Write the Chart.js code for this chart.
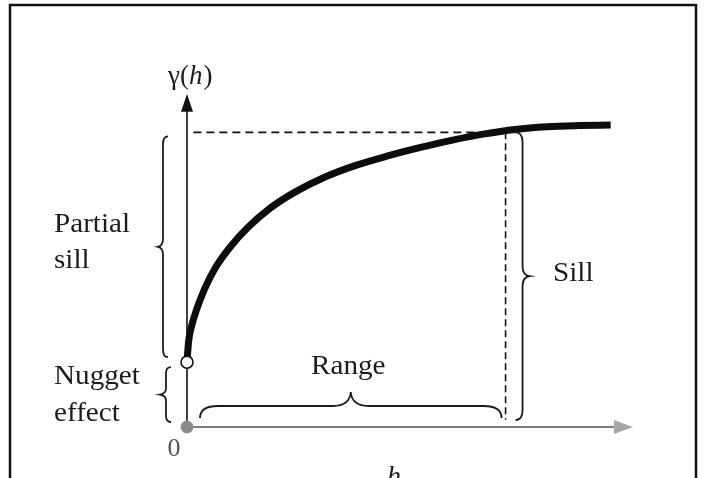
<!DOCTYPE html>
<html>
<head>
<meta charset="utf-8">
<script src="https://cdn.jsdelivr.net/npm/chart.js@4"></script>
<style>
  body { margin: 0; background: #fff; }
  #chart { display: block; }
</style>
</head>
<body>
<canvas id="chart" width="706" height="478"></canvas>
<script>
// semivariogram (h, gamma(h))
const hValues = [0, 0.05, 0.15, 0.3, 0.55, 0.9, 1.35, 1.9, 2.6, 3.4, 4.3, 5.3, 6.3, 7.3, 8.3, 9.3, 10.3, 11.3, 12.3, 13.3];
const gammaValues = [2.2, 2.9, 3.45, 3.98, 4.68, 5.42, 6.1, 6.76, 7.42, 7.98, 8.47, 8.88, 9.2, 9.48, 9.73, 9.94, 10.1, 10.19, 10.23, 10.25];

const nugget = 2.2;
const sill = 10;
const range = 10;
const xMax = 14;
const yMax = 11.2;

const leftLabels = ['Partial', 'sill', 'Nugget', 'effect'];
const rangeLabel = 'Range';
const sillLabel = 'Sill';
const originLabel = '0';
const xAxisLabel = 'h';

const curve = hValues.map((h, i) => ({ x: h, y: gammaValues[i] }));

const SERIF = '"Liberation Serif", "Times New Roman", serif';
const INK = '#1c1c1c';

// curly brace, drawn in a local frame: along = +x, tip side = +y
function brace(ctx, x1, y1, x2, y2, a, b, r) {
    const len = Math.hypot(x2 - x1, y2 - y1);
    const ang = Math.atan2(y2 - y1, x2 - x1);
    const m = len / 2;
    ctx.save();
    ctx.translate(x1, y1);
    ctx.rotate(ang);
    ctx.beginPath();
    ctx.moveTo(0, 0);
    ctx.quadraticCurveTo(0, a, r, a);
    ctx.lineTo(m - r, a);
    ctx.quadraticCurveTo(m - 1, a, m, a + b);
    ctx.quadraticCurveTo(m + 1, a, m + r, a);
    ctx.lineTo(len - r, a);
    ctx.quadraticCurveTo(len, a, len, 0);
    ctx.stroke();
    ctx.restore();
}

function stretchedText(ctx, text, x, y, align, sx) {
    ctx.save();
    ctx.translate(x, y);
    ctx.scale(sx, 1);
    ctx.textAlign = align;
    ctx.fillText(text, 0, 0);
    ctx.restore();
}

const annotations = {
    id: 'annotations',
    afterDatasetsDraw(chart) {
        const ctx = chart.ctx;
        const x = chart.scales.x;
        const y = chart.scales.y;
        const x0 = x.getPixelForValue(0);
        const y0 = y.getPixelForValue(0);

        ctx.save();
        // arrow heads
        ctx.fillStyle = '#111';
        ctx.beginPath();
        ctx.moveTo(x0, y.getPixelForValue(yMax) - 3);
        ctx.lineTo(x0 - 6, y.getPixelForValue(10.7));
        ctx.lineTo(x0 + 6, y.getPixelForValue(10.7));
        ctx.closePath();
        ctx.fill();

        ctx.fillStyle = '#a8a8a8';
        ctx.beginPath();
        ctx.moveTo(x.getPixelForValue(xMax), y0);
        ctx.lineTo(x.getPixelForValue(13.4), y0 - 7);
        ctx.lineTo(x.getPixelForValue(13.4), y0 + 7);
        ctx.closePath();
        ctx.fill();

        // braces
        ctx.strokeStyle = INK;
        ctx.lineWidth = 1.8;
        const ySill = y.getPixelForValue(sill);
        const yNug = y.getPixelForValue(nugget);
        const xRange = x.getPixelForValue(range);
        // partial sill: tip to the left
        brace(ctx, x0 - 19, ySill + 4, x0 - 19, yNug - 5, 5, 5, 8);
        // nugget effect
        brace(ctx, x0 - 16, yNug + 5, x0 - 16, y0 - 5, 5, 6, 6);
        // sill: tip to the right
        brace(ctx, xRange + 10, y0 - 7, xRange + 10, ySill, 7, 7, 10);
        // range: tip upward
        brace(ctx, xRange - 4, y0 - 9, x0 + 13, y0 - 9, 12, 14, 18);

        // texts
        ctx.fillStyle = INK;
        ctx.textBaseline = 'alphabetic';
        ctx.font = '27px ' + SERIF;
        const sx = 1.08;
        stretchedText(ctx, leftLabels[0], 54, 232, 'left', sx);
        stretchedText(ctx, leftLabels[1], 54, 268, 'left', sx);
        stretchedText(ctx, leftLabels[2], 54, 384, 'left', sx);
        stretchedText(ctx, leftLabels[3], 54, 421, 'left', sx);
        stretchedText(ctx, rangeLabel, x.getPixelForValue(range / 2) + 2, 374, 'center', sx);
        stretchedText(ctx, sillLabel, 553, 281, 'left', sx);

        // y-axis title gamma(h)
        ctx.font = '27px ' + SERIF;
        let tx = 168;
        const ty = 84;
        ctx.textAlign = 'left';
        ctx.fillText('\u03b3(', tx, ty);
        tx += ctx.measureText('\u03b3(').width;
        ctx.font = 'italic 27px ' + SERIF;
        ctx.fillText('h', tx, ty);
        tx += ctx.measureText('h').width + 1;
        ctx.font = '27px ' + SERIF;
        ctx.fillText(')', tx, ty);

        ctx.fillStyle = '#555';
        ctx.font = '26px ' + SERIF;
        ctx.textAlign = 'center';
        ctx.fillText(originLabel, 174, 456);

        ctx.fillStyle = INK;
        ctx.font = 'italic 28px ' + SERIF;
        ctx.fillText(xAxisLabel, x.getPixelForValue(6.5), 485);

        // page frame
        ctx.strokeStyle = '#111';
        ctx.lineWidth = 2.5;
        ctx.beginPath();
        ctx.moveTo(10, 478);
        ctx.lineTo(10, 5);
        ctx.lineTo(696, 5);
        ctx.lineTo(696, 478);
        ctx.stroke();
        ctx.restore();
    }
};

new Chart(document.getElementById('chart'), {
    type: 'scatter',
    data: {
        datasets: [
            {
                data: [{ x: 0, y: nugget }],
                pointRadius: 6,
                pointBackgroundColor: '#fff',
                pointBorderColor: '#111',
                pointBorderWidth: 1.6,
                clip: false
            },
            {
                data: [{ x: 0, y: 0 }],
                pointRadius: 6,
                pointBackgroundColor: '#8a8a8a',
                pointBorderColor: '#8a8a8a',
                clip: false
            },
            {
                data: curve,
                showLine: true,
                pointRadius: 0,
                borderColor: '#0d0d0d',
                borderWidth: 7,
                cubicInterpolationMode: 'monotone',
                borderCapStyle: 'butt',
                clip: false
            },
            {
                data: [{ x: 0.2, y: sill }, { x: range, y: sill }],
                showLine: true,
                pointRadius: 0,
                borderColor: '#111',
                borderWidth: 1.6,
                borderDash: [8, 5],
                clip: false
            },
            {
                data: [{ x: range, y: sill }, { x: range, y: 0.25 }],
                showLine: true,
                pointRadius: 0,
                borderColor: '#111',
                borderWidth: 1.6,
                borderDash: [7, 4],
                clip: false
            },
            {
                data: [{ x: 0, y: 0 }, { x: 0, y: 10.8 }],
                showLine: true,
                pointRadius: 0,
                borderColor: '#111',
                borderWidth: 1.6,
                clip: false
            },
            {
                data: [{ x: 0, y: 0 }, { x: 13.5, y: 0 }],
                showLine: true,
                pointRadius: 0,
                borderColor: '#555',
                borderWidth: 1.6,
                clip: false
            }
        ]
    },
    options: {
        responsive: false,
        animation: false,
        layout: { padding: { left: 187, right: 73, top: 97, bottom: 51 } },
        plugins: { legend: { display: false }, tooltip: { enabled: false } },
        scales: {
            x: { type: 'linear', display: false, min: 0, max: xMax },
            y: { type: 'linear', display: false, min: 0, max: yMax }
        }
    },
    plugins: [annotations]
});
</script>
</body>
</html>
